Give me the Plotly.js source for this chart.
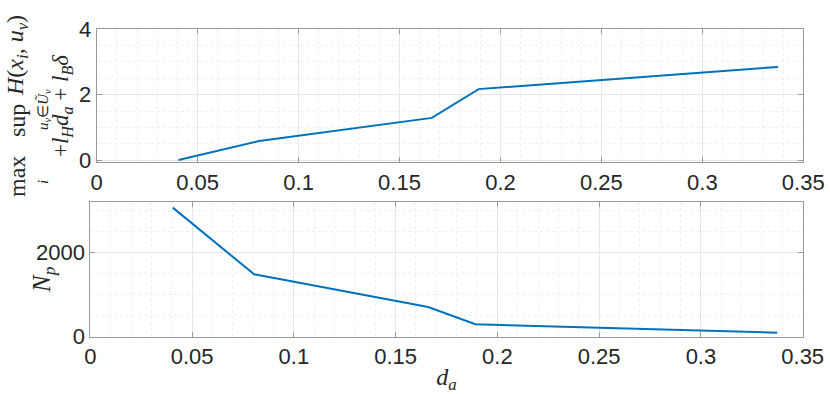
<!DOCTYPE html>
<html>
<head>
<meta charset="utf-8">
<script src="https://cdn.plot.ly/plotly-3.0.1.min.js"></script>
<style>
  html, body { margin: 0; padding: 0; background: #fff; }
  #chart { width: 830px; height: 394px; }
</style>
</head>
<body>
<div id="chart"></div>
<script>
// d_a values (x) and the two quantities plotted against them
var da = [0.0405, 0.0805, 0.166, 0.1892, 0.3375];
var bound = [0.0, 0.58, 1.29, 2.17, 2.85];
var Np = [3060, 1480, 705, 295, 95];

var xTicks = [0, 0.05, 0.1, 0.15, 0.2, 0.25, 0.3, 0.35];
var xTickText = ['0', '0.05', '0.1', '0.15', '0.2', '0.25', '0.3', '0.35'];

var W = 830, H = 394;
var lineColor = '#0072BD';
var boxColor = '#9a9a9a';
var textColor = '#262626';
var tickFont = { family: 'Liberation Sans, Arial, sans-serif', size: 22, color: textColor };
var serif = 'Liberation Serif, Times New Roman, serif';

function xAxis(domain, anchor) {
  return {
    domain: domain,
    anchor: anchor,
    range: [0, 0.35],
    tickvals: xTicks,
    ticktext: xTickText,
    ticks: 'inside',
    ticklen: 5,
    tickcolor: boxColor,
    tickfont: tickFont,
    showline: true,
    linecolor: boxColor,
    linewidth: 1,
    mirror: 'ticks',
    showgrid: true,
    gridcolor: '#e6e6e6',
    zeroline: false,
    minor: { dtick: 0.01, showgrid: true, gridcolor: '#efefef', griddash: 'dot', ticks: '' },
  };
}

function yAxis(domain, anchor, range, ticks, minorStep) {
  return {
    domain: domain,
    anchor: anchor,
    range: range,
    tickvals: ticks,
    ticks: 'inside',
    ticklen: 5,
    tickcolor: boxColor,
    tickfont: tickFont,
    showline: true,
    linecolor: boxColor,
    linewidth: 1,
    mirror: 'ticks',
    showgrid: true,
    gridcolor: '#e6e6e6',
    zeroline: false,
    minor: { dtick: minorStep, showgrid: true, gridcolor: '#efefef', griddash: 'dot', ticks: '' },
  };
}

// rotated label pieces, placed by pixel centre
function vlabel(text, px, py, size) {
  return {
    text: text,
    xref: 'paper', yref: 'paper',
    x: px / W, y: 1 - py / H,
    xanchor: 'center', yanchor: 'middle',
    textangle: -90,
    showarrow: false,
    font: { family: serif, size: size, color: textColor },
  };
}

var trace1 = {
  x: da,
  y: bound,
  type: 'scatter',
  mode: 'lines',
  line: { color: lineColor, width: 2 },
  xaxis: 'x',
  yaxis: 'y',
};
var trace2 = {
  x: da,
  y: Np,
  type: 'scatter',
  mode: 'lines',
  line: { color: lineColor, width: 2 },
  xaxis: 'x2',
  yaxis: 'y2',
};

var layout = {
  width: W,
  height: H,
  margin: { l: 0, r: 0, t: 0, b: 0 },
  paper_bgcolor: '#ffffff',
  plot_bgcolor: '#ffffff',
  showlegend: false,
  xaxis: xAxis([0.1165, 0.9678], 'y'),
  yaxis: yAxis([0.588, 0.9256], 'x', [-0.07, 4], [0, 2, 4], 0.5),
  xaxis2: Object.assign(xAxis([0.1088, 0.9671], 'y2'), {
    title: { text: '<i>d<sub>a</sub></i>', font: { family: serif, size: 24, color: textColor }, standoff: 2 },
  }),
  yaxis2: yAxis([0.1454, 0.488], 'x2', [0, 3200], [0, 2000], 500),
  annotations: [
    vlabel('max', 17, 177, 24),
    vlabel('sup', 17, 121, 24),
    vlabel('<i>H</i>(<i>x<sub>i</sub></i>, <i>u<sub>v</sub></i>)', 17, 56, 24),
    vlabel('<i>i</i>', 43, 182, 15),
    vlabel('<i>u<sub>v</sub></i>∈<i>Ũ<sub>v</sub></i>', 44, 110, 15),
    vlabel('+<i>l<sub>H</sub>d<sub>a</sub></i> + <i>l<sub>B</sub>δ</i>', 62, 106, 23),
    vlabel('<i>N<sub>p</sub></i>', 43, 280, 25),
  ],
};

Plotly.newPlot('chart', [trace1, trace2], layout, {
  displaylogo: false,
  displayModeBar: false,
  responsive: false,
});
</script>
</body>
</html>
